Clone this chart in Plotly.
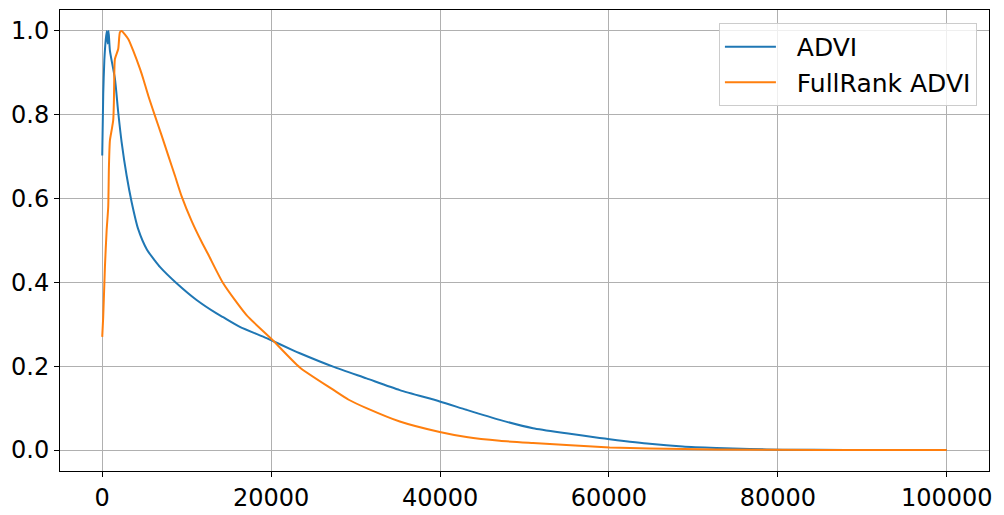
import plotly.graph_objects as go

# Normalised curves
advi_iter = [0, 120, 250, 420, 550, 650, 750, 911, 1503, 1893, 2296, 2888,
             3479, 4260, 5300, 6237, 6828, 8805, 11172, 13538, 14320, 16296,
             19456, 22604, 23396, 27337, 31290, 35231, 39964, 43124, 47065,
             51006, 54959, 58899, 60083, 64817, 68722, 72710, 76651, 80556,
             88000, 99999]
advi_val = [0.703, 0.85, 0.93, 0.98, 1.0, 0.97, 1.0, 0.953, 0.886, 0.806,
            0.735, 0.655, 0.592, 0.527, 0.478, 0.452, 0.437, 0.398, 0.358,
            0.326, 0.317, 0.294, 0.267, 0.238, 0.231, 0.199, 0.171, 0.143,
            0.116, 0.096, 0.072, 0.052, 0.040, 0.029, 0.026, 0.015, 0.0086,
            0.005, 0.0024, 0.001, 0.0003, 0.0]

fr_iter = [0, 118, 320, 521, 710, 793, 911, 1112, 1302, 1385, 1420, 1503,
           1893, 2095, 2296, 3077, 3669, 4462, 4852, 5444, 6237, 7030, 7811,
           8604, 9394, 10580, 11763, 12544, 14320, 17089, 20047, 23396, 27337,
           29183, 31290, 35231, 39964, 43124, 47065, 51006, 54959, 60083,
           64817, 72710, 85000, 99999]
fr_val = [0.27, 0.318, 0.437, 0.524, 0.58, 0.675, 0.739, 0.763, 0.787, 0.834,
          0.882, 0.933, 0.957, 0.997, 1.0, 0.981, 0.953, 0.91, 0.886, 0.846,
          0.798, 0.751, 0.703, 0.655, 0.606, 0.547, 0.497, 0.467, 0.398,
          0.322, 0.265, 0.197, 0.144, 0.120, 0.100, 0.068, 0.043, 0.031,
          0.022, 0.0167, 0.012, 0.0062, 0.0038, 0.0014, 0.0003, 0.0]

x_ticks = [0, 20000, 40000, 60000, 80000, 100000]
y_ticks = [0.0, 0.2, 0.4, 0.6, 0.8, 1.0]

gap = '\u00a0\u00a0'  # pushes legend text away from the line sample

fig = go.Figure()
fig.add_trace(go.Scatter(x=advi_iter, y=advi_val, mode='lines',
                         name=gap + 'ADVI',
                         line=dict(color='#1f77b4', width=2, shape='spline',
                                   smoothing=0.6)))
fig.add_trace(go.Scatter(x=fr_iter, y=fr_val, mode='lines',
                         name=gap + 'FullRank ADVI',
                         line=dict(color='#ff7f0e', width=2, shape='spline',
                                   smoothing=0.6)))

axis_style = dict(
    showline=True, linecolor='black', linewidth=1, mirror=True,
    ticks='outside', ticklen=5, tickcolor='black', tickwidth=1,
    showgrid=True, gridcolor='#b0b0b0', gridwidth=1, zeroline=False,
    automargin=False,
    tickfont=dict(family='DejaVu Sans', size=24, color='black'),
)

fig.update_xaxes(range=[-5000, 104999], tickvals=x_ticks,
                 ticktext=[str(v) for v in x_ticks], **axis_style)
fig.update_yaxes(range=[-0.05, 1.05], tickvals=y_ticks,
                 ticktext=['%.1f' % v for v in y_ticks], **axis_style)

fig.update_layout(
    width=1004, height=515,
    margin=dict(l=60, r=15, t=10, b=44),
    plot_bgcolor='white', paper_bgcolor='white',
    font=dict(family='DejaVu Sans', size=24, color='black'),
    legend=dict(x=0.987, y=0.972, xanchor='right', yanchor='top',
                bgcolor='rgba(255,255,255,0.8)', bordercolor='#cccccc',
                borderwidth=1, font=dict(size=25), itemwidth=51,
                tracegroupgap=0),
)

# the default page keeps the browser's 8px body margin; drop it
fig.write_html("out.html", config={'displayModeBar': False},
               post_script="document.body.style.margin='0';"
                           "document.body.style.overflow='hidden';")
